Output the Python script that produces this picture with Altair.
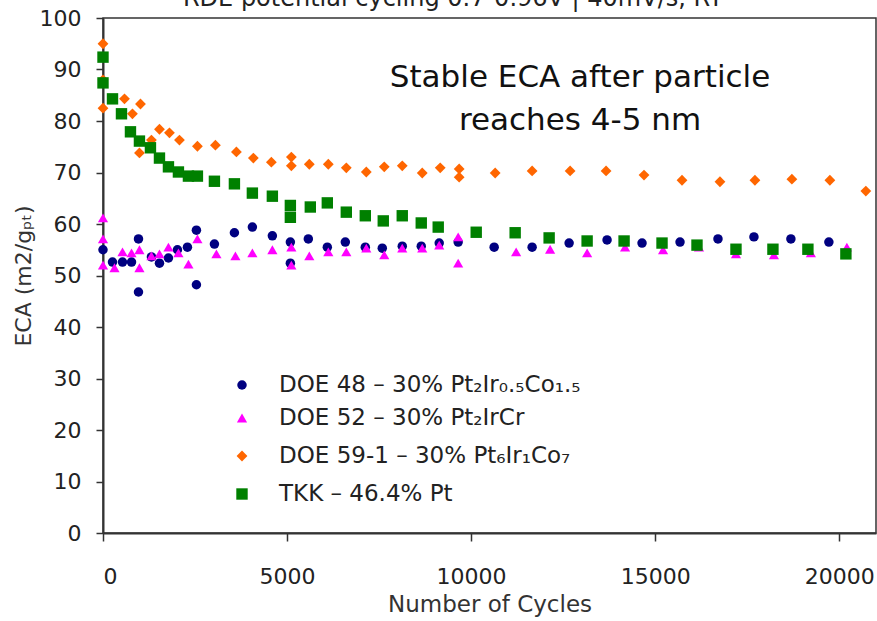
import altair as alt
import pandas as pd

# ---- data ----
doe48_x = [0, 258, 530, 775, 964, 964, 1316, 1534, 1778, 2022, 2294, 2538, 2538, 3027, 3570, 4058,
           4601, 5090, 5090, 5578, 6094, 6583, 7126, 7587, 8130, 8646, 9134, 9649, 10627, 11658,
           12663, 13694, 14644, 15676, 16707, 17684, 18688, 19720]
doe48_y = [55, 52.6, 52.6, 52.6, 57.1, 46.8, 53.6, 52.4, 53.4, 55, 55.5, 58.8, 48.2, 56.1, 58.3, 59.4,
           57.7, 56.5, 52.4, 57.1, 55.5, 56.5, 55.5, 55.3, 55.7, 55.7, 56.3, 56.5, 55.5, 55.5,
           56.3, 56.9, 56.3, 56.5, 57.1, 57.5, 57.1, 56.5]

doe52_x = [0, 0, 0, 312, 530, 775, 990, 990, 1316, 1534, 1778, 2049, 2321, 2565, 3081, 3597, 4058,
           4601, 5117, 5117, 5605, 6121, 6610, 7153, 7641, 8130, 8673, 9134, 9649, 9649, 11224,
           12147, 13152, 14183, 15215, 16192, 17196, 18227, 19231, 20209]
doe52_y = [61.2, 57.1, 52, 51.5, 54.6, 54.4, 55, 51.5, 53.8, 54.2, 55.5, 54.4, 52.2, 57.1, 54.2, 53.8, 54.4,
           55, 55.5, 52, 53.8, 54.6, 54.6, 55.3, 54, 55.3, 55.3, 55.9, 57.5, 52.4, 54.6,
           55.1, 54.4, 55.5, 55, 55.5, 54.2, 54, 54.4, 55.5]

doe59_x = [0, 0, 0, 584, 800, 990, 1018, 1316, 1534, 1805, 2077, 2565, 3054, 3624, 4085, 4574, 5117,
           5117, 5605, 6121, 6610, 7153, 7641, 8130, 8673, 9161, 9676, 9676, 10654, 11658, 12690,
           13667, 14698, 15730, 16761, 17711, 18715, 19747, 20724]
doe59_y = [95, 88, 82.5, 84.3, 81.4, 73.8, 83.3, 76.3, 78.4, 77.7, 76.3, 75.1, 75.3, 74, 72.8, 72, 73,
           71.3, 71.6, 71.6, 70.9, 70.1, 71.1, 71.3, 69.9, 70.9, 70.7, 69.1, 69.9, 70.3, 70.3,
           70.3, 69.5, 68.5, 68.2, 68.5, 68.7, 68.5, 66.4]

tkk_x = [0, 0, 258, 502, 746, 990, 1289, 1534, 1778, 2049, 2321, 2565, 3027, 3570, 4058, 4601, 5090,
         5090, 5632, 6094, 6610, 7126, 7614, 8130, 8646, 9107, 10139, 11197, 12120, 13152, 14156,
         15187, 16137, 17196, 18200, 19150, 20182]
tkk_y = [92.4, 87.4, 84.3, 81.4, 77.9, 76.1, 74.8, 72.8, 71.1, 70.1, 69.3, 69.3, 68.3, 67.8, 66, 65.4, 63.6,
         61.3, 63.3, 64.1, 62.3, 61.6, 60.6, 61.6, 60.2, 59.4, 58.4, 58.3, 57.3, 56.7, 56.7,
         56.3, 55.9, 55.1, 55.1, 55.1, 54.2]

series_names = ["DOE 48", "DOE 52", "DOE 59-1", "TKK"]
series_colors = ["#000080", "#FF00FF", "#FF6600", "#008000"]
series_shapes = ["circle", "triangle-up", "diamond", "square"]
series_sizes = [90, 130, 150, 140]
legend_labels = ["DOE 48  \u2013 30% Pt\u2082Ir\u2080.\u2085Co\u2081.\u2085",
                 "DOE 52  \u2013 30% Pt\u2082IrCr",
                 "DOE 59-1  \u2013 30% Pt\u2086Ir\u2081Co\u2087",
                 "TKK \u2013 46.4%  Pt"]
x_ticks = [0, 5000, 10000, 15000, 20000]
y_ticks = [0, 10, 20, 30, 40, 50, 60, 70, 80, 90, 100]

rows = []
for name, xs, ys in zip(series_names, [doe48_x, doe52_x, doe59_x, tkk_x],
                        [doe48_y, doe52_y, doe59_y, tkk_y]):
    for xv, yv in zip(xs, ys):
        rows.append({"series": name, "cycles": xv, "eca": yv})
df = pd.DataFrame(rows)
df["order"] = df["series"].map({n: i for i, n in enumerate(series_names)})

W, H = 773, 515
FONT = "DejaVu Sans"

xscale = alt.Scale(domain=[0, 21000], nice=False, zero=False)
yscale = alt.Scale(domain=[0, 100], nice=False)

points = alt.Chart(df).mark_point(filled=True, opacity=1, strokeWidth=0).encode(
    x=alt.X("cycles:Q", scale=xscale,
            axis=alt.Axis(values=x_ticks, title="Number of Cycles", grid=False, format="d",
                          tickSize=8, labelPadding=25, titlePadding=6, domainWidth=2,
                          domainColor="#333", tickColor="#333", tickWidth=1.5,
                          labelFontSize=22, titleFontSize=23, labelColor="#222",
                          titleColor="#333", labelFont=FONT, titleFont=FONT,
                          titleFontWeight="normal")),
    y=alt.Y("eca:Q", scale=yscale,
            axis=alt.Axis(values=y_ticks, title="ECA (m2/g\u209a\u209c)", grid=False,
                          tickSize=7, labelPadding=15, titlePadding=4, domainWidth=2,
                          domainColor="#333", tickColor="#333", tickWidth=1.5,
                          labelFontSize=22, titleFontSize=22, labelColor="#222",
                          titleColor="#333", labelFont=FONT, titleFont=FONT,
                          titleFontWeight="normal")),
    color=alt.Color("series:N", scale=alt.Scale(domain=series_names, range=series_colors), legend=None),
    shape=alt.Shape("series:N", scale=alt.Scale(domain=series_names, range=series_shapes), legend=None),
    size=alt.Size("series:N", scale=alt.Scale(domain=series_names, range=series_sizes), legend=None),
    order=alt.Order("order:Q"),
)

# manual legend inside the plot
leg = pd.DataFrame({"series": series_names, "label": legend_labels,
                    "py": [367, 400, 438, 476]})
leg_sym = alt.Chart(leg).mark_point(filled=True, opacity=1, strokeWidth=0).encode(
    x=alt.value(139), y=alt.Y("py:Q", scale=None),
    color=alt.Color("series:N", scale=alt.Scale(domain=series_names, range=series_colors), legend=None),
    shape=alt.Shape("series:N", scale=alt.Scale(domain=series_names, range=series_shapes), legend=None),
    size=alt.Size("series:N", scale=alt.Scale(domain=series_names, range=series_sizes), legend=None),
)
leg_txt = alt.Chart(leg).mark_text(align="left", baseline="middle", fontSize=23, font=FONT,
                                   color="#222").encode(
    x=alt.value(176), y=alt.Y("py:Q", scale=None), text="label:N")

note = pd.DataFrame({"t": ["Stable ECA after particle", "reaches 4-5 nm"], "py": [60, 103]})
note_txt = alt.Chart(note).mark_text(align="center", baseline="middle", fontSize=31, font=FONT,
                                     color="#111").encode(
    x=alt.value(477), y=alt.Y("py:Q", scale=None), text="t:N")

top = pd.DataFrame({"t": ["RDE potential cycling  0.7-0.96V  |  40mV/s, RT"]})
top_txt = alt.Chart(top).mark_text(align="center", baseline="alphabetic", fontSize=24, font=FONT,
                                   color="#222").encode(
    x=alt.value(350), y=alt.value(-12), text="t:N")

chart = alt.layer(points, leg_sym, leg_txt, note_txt, top_txt).properties(
    width=W, height=H,
    autosize=alt.AutoSizeParams(type="none"),
    padding={"left": 103, "top": 18, "right": 1, "bottom": 88},
    background="white",
).configure_view(stroke="#333", strokeWidth=1.5)

chart.save("out.html", embed_options={"renderer": "svg", "actions": False})
